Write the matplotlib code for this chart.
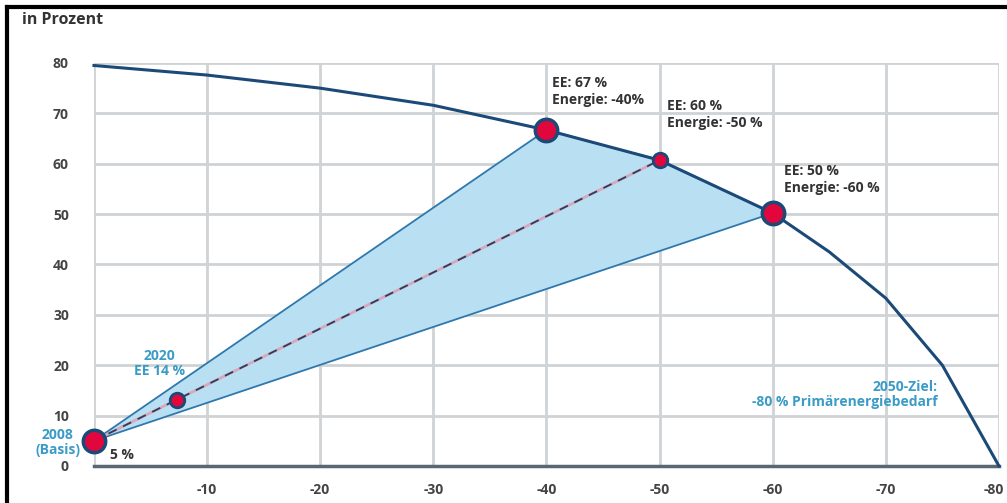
import matplotlib
matplotlib.use('Agg')
import matplotlib.pyplot as plt
from matplotlib.lines import Line2D
from matplotlib.transforms import ScaledTranslation

plt.rcParams['font.family'] = ['Open Sans', 'DejaVu Sans']

# --------------------------------------------------------------------------------------
# 데이터
curve_x = [0, -10, -20, -30, -40, -50, -60, -65, -70, -75, -80]
curve_y = [79.5, 77.6, 75.0, 71.6, 66.7, 60.7, 50.2, 42.5, 33.3, 20.0, 0]

big_x = [0, -40, -60]
big_y = [5, 66.7, 50.2]
small_x = [-7.3, -50]
small_y = [13.0, 60.7]

tri_x = [0, -40, -50, -60]
tri_y = [5, 66.7, 60.7, 50.2]

dash_x = [0, -50]
dash_y = [5, 60.7]

xticks = [-10, -20, -30, -40, -50, -60, -70, -80]
yticks = [0, 10, 20, 30, 40, 50, 60, 70, 80]

navy = '#1c4a78'
red = '#e1063c'
lblue = '#3a9cc6'
txt = '#333333'

# --------------------------------------------------------------------------------------
fig = plt.figure(figsize=(10.07, 5.03), dpi=100)
ax = fig.add_axes([0.0933, 0.0736, 0.8987, 0.8012])

ax.set_xlim(0, -80)
ax.set_ylim(0, 80)

# 그리드
for xv in [0] + xticks:
    ax.plot([xv, xv], [0, 80], color='#cfd3d6', lw=2, zorder=0)
for yv in yticks[1:]:
    ax.plot([0, -80], [yv, yv], color='#cfd3d6', lw=2, zorder=0)
ax.plot([0, -80], [0, 0], color='#5a6670', lw=2.5, zorder=1, clip_on=False)

# 삼각형
ax.fill(tri_x, tri_y, facecolor='#b9e0f2', edgecolor='#2f78ad', lw=1.3, zorder=2)
ax.plot(dash_x, dash_y, color='#d9a7bd', lw=2, zorder=3)
ax.plot(dash_x, dash_y, color='#2a3e5c', lw=1.3, ls=(0, (5, 4)), zorder=3)

# 곡선
ax.plot(curve_x, curve_y, color=navy, lw=2.2, zorder=4, clip_on=False)

ax.scatter(big_x, big_y, s=260, color=red, edgecolor=navy, lw=2.5, zorder=5, clip_on=False)
ax.scatter(small_x, small_y, s=110, color=red, edgecolor=navy, lw=2, zorder=5, clip_on=False)

# 텍스트
fs = 10
fw = 'bold'
ax.text(-40.5, 77.4, 'EE: 67 %\nEnergie: -40%', ha='left', va='top', fontsize=fs,
        color=txt, fontweight=fw, linespacing=1.25)
ax.text(-50.7, 72.8, 'EE: 60 %\nEnergie: -50 %', ha='left', va='top', fontsize=fs,
        color=txt, fontweight=fw, linespacing=1.25)
ax.text(-61.0, 59.9, 'EE: 50 %\nEnergie: -60 %', ha='left', va='top', fontsize=fs,
        color=txt, fontweight=fw, linespacing=1.25)
ax.text(-5.8, 23.2, '2020\nEE 14 %', ha='center', va='top', fontsize=fs,
        color=lblue, fontweight=fw, linespacing=1.1)
ax.text(3.2, 7.6, '2008\n(Basis)', ha='center', va='top', fontsize=fs,
        color=lblue, fontweight=fw, linespacing=1.1, clip_on=False)
ax.text(-1.4, 2.2, '5 %', ha='left', va='center', fontsize=fs,
        color=txt, fontweight=fw)
ax.text(-74.6, 17.0, '2050-Ziel:\n-80 % Primärenergiebedarf', ha='right', va='top',
        fontsize=fs, color=lblue, fontweight=fw, linespacing=1.1)

ax.set_xticks(xticks)
ax.set_xticklabels([str(v) for v in xticks])
ax.set_yticks(yticks)
ax.tick_params(length=0, labelsize=fs, labelcolor='#444444', pad=12)
for lab in ax.get_xticklabels() + ax.get_yticklabels():
    lab.set_fontweight(fw)
ax.tick_params(axis='y', pad=18)
last = ax.get_xticklabels()[-1]
last.set_horizontalalignment('right')
last.set_transform(last.get_transform() + ScaledTranslation(5 / 100, 0, fig.dpi_scale_trans))
for s in ax.spines.values():
    s.set_visible(False)

fig.text(22 / 1007, 1 - 20 / 503, 'in Prozent', ha='left', va='center', fontsize=11.5,
         color=txt, fontweight=fw)

# 테두리
fig.add_artist(Line2D([7 / 1007, 7 / 1007], [0, 1 - 7 / 503], color='black', lw=3,
                      transform=fig.transFigure))
fig.add_artist(Line2D([7 / 1007, 1], [1 - 7 / 503, 1 - 7 / 503], color='black', lw=3,
                      transform=fig.transFigure))

fig.savefig('out.png', dpi=100)
